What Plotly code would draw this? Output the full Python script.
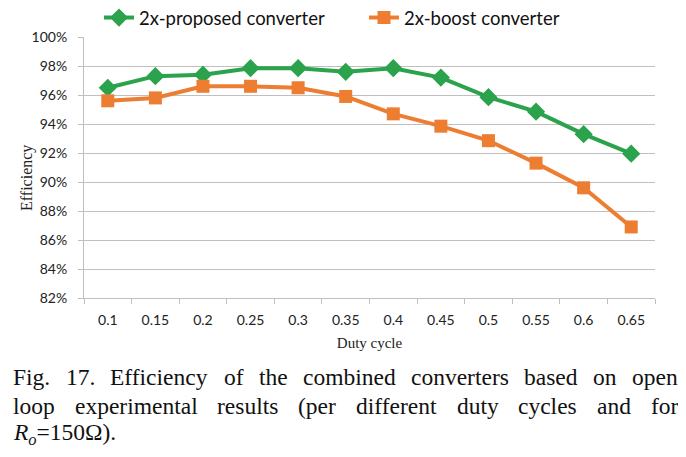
import plotly.graph_objects as go

duty = ["0.1", "0.15", "0.2", "0.25", "0.3", "0.35", "0.4", "0.45", "0.5", "0.55", "0.6", "0.65"]
proposed = [96.5, 97.3, 97.4, 97.85, 97.85, 97.6, 97.85, 97.2, 95.85, 94.85, 93.3, 91.95]
boost = [95.6, 95.8, 96.6, 96.6, 96.5, 95.9, 94.7, 93.85, 92.85, 91.3, 89.6, 86.9]
y_ticks = [82, 84, 86, 88, 90, 92, 94, 96, 98, 100]
y_tick_labels = [f"{v}%" for v in y_ticks]

caption_line1 = "Fig. 17. Efficiency of the combined converters based on open"
caption_line2 = "loop experimental results (per different duty cycles and for"
caption_line3 = "<i>R<sub>o</sub></i>=150Ω)."

W, H = 686, 457
OFF = 8  # page body margin
# target screen-space plot box
SL, SR, ST, SB = 84, 655, 37, 298
L, R, T, B = SL - OFF, SR - OFF, ST - OFF, SB - OFF

def px_x(sx):
    return (sx - OFF - L) / (R - L)

def px_y(sy):
    return (B - (sy - OFF)) / (B - T)

GREEN = "#2BA24C"
ORANGE = "#ED7D31"
GRID = "#BFBFBF"

fig = go.Figure()
fig.add_trace(go.Scatter(x=duty, y=proposed, name="2x-proposed converter", mode="lines+markers",
                         line=dict(color=GREEN, width=4),
                         marker=dict(symbol="diamond", size=14, color=GREEN)))
fig.add_trace(go.Scatter(x=duty, y=boost, name="2x-boost converter", mode="lines+markers",
                         line=dict(color=ORANGE, width=4),
                         marker=dict(symbol="square", size=13, color=ORANGE)))

tickfont = dict(family="Lato", size=14, color="#222222")
serif = "Liberation Serif"

fig.update_layout(
    width=W, height=H,
    margin=dict(l=L, r=W - R, t=T, b=H - B, autoexpand=False),
    plot_bgcolor="white", paper_bgcolor="white",
    showlegend=True,
    legend=dict(orientation="h", x=px_x(99), y=px_y(18), xanchor="left", yanchor="middle",
                font=dict(family="Lato", size=18.5, color="#111111"),
                entrywidth=220, entrywidthmode="pixels",
                bgcolor="rgba(0,0,0,0)", itemclick=False),
    xaxis=dict(type="category", range=[-0.5, len(duty) - 0.5], showgrid=False, showline=True,
               linecolor=GRID, linewidth=1,
               ticks="outside", tickson="boundaries", ticklen=5, tickcolor=GRID,
               tickfont=tickfont, ticklabelstandoff=9,
               title=dict(text="Duty cycle", font=dict(family=serif, size=15, color="#222222"),
                          standoff=10)),
    yaxis=dict(range=[82, 100], tickmode="array", tickvals=y_ticks, ticktext=y_tick_labels,
               showgrid=True, gridcolor=GRID, gridwidth=1, showline=True, linecolor=GRID,
               linewidth=1, ticks="outside", ticklen=5, tickcolor=GRID, tickfont=tickfont,
               zeroline=False, ticklabelstandoff=8),
)

# y-axis title as rotated annotation
fig.add_annotation(text="Efficiency", x=px_x(27), y=px_y(178), xref="paper", yref="paper",
                   textangle=-90, showarrow=False, xanchor="center", yanchor="middle",
                   font=dict(family=serif, size=16, color="#222222"))

# justified caption (Times advance widths, per 1000 em)
TW = {"F": 556, "i": 278, "g": 500, ".": 250, "1": 500, "7": 500, "E": 611, "f": 333,
      "c": 444, "e": 444, "n": 500, "y": 500, "o": 500, "t": 278, "h": 500, "m": 778,
      "b": 500, "d": 500, "v": 500, "r": 333, "s": 389, "a": 444, "p": 500, "l": 278,
      "x": 500, "u": 500, "(": 333}
CAP_SIZE = 23.5
LEFT, RIGHT = 11, 676

def word_w(w):
    return sum(TW.get(ch, 500) for ch in w) / 1000 * CAP_SIZE

def add_caption_word(text, sx, sy):
    fig.add_annotation(text=text, x=px_x(sx), y=px_y(sy), xref="paper", yref="paper",
                       xanchor="left", yanchor="middle", showarrow=False,
                       font=dict(family=serif, size=CAP_SIZE, color="#111111"))

for line, sy in [(caption_line1, 377), (caption_line2, 406)]:
    words = line.split(" ")
    widths = [word_w(w) for w in words]
    gap = (RIGHT - LEFT - sum(widths)) / (len(words) - 1)
    x = LEFT
    for w, ww in zip(words, widths):
        add_caption_word(w, x, sy)
        x += ww + gap
add_caption_word(caption_line3, LEFT, 434)

fig.write_html("out.html")
